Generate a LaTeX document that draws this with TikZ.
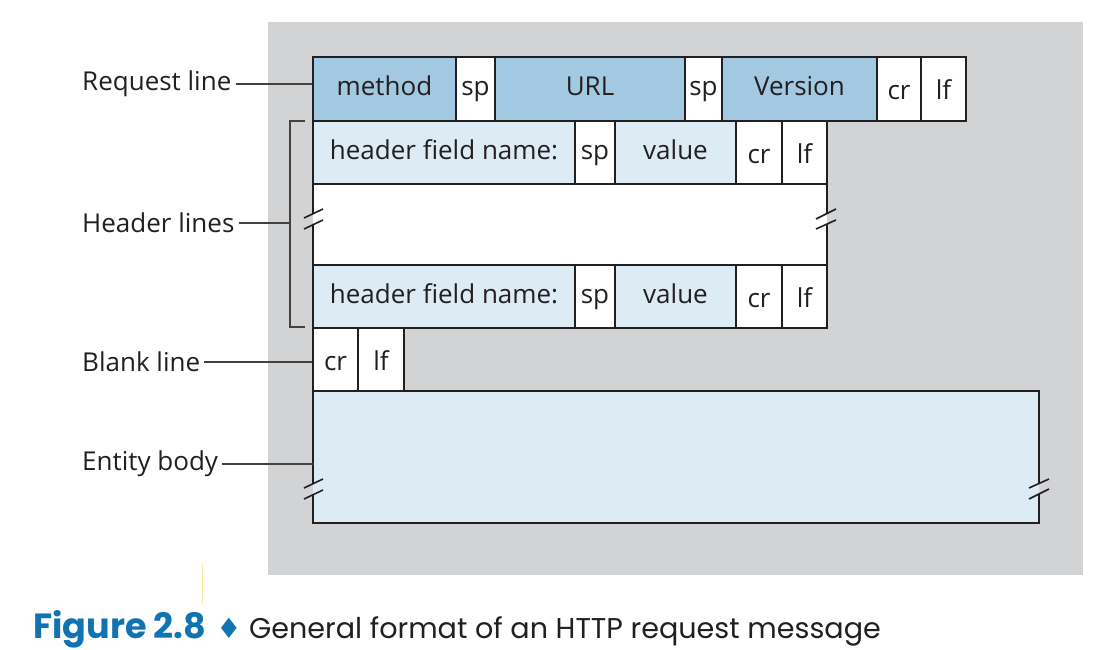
\documentclass[tikz,border=0pt]{standalone}
\usepackage{fontspec}
\setmainfont{Open Sans}
\newfontfamily\capfont{Poppins}
\newfontfamily\symfont{DejaVu Sans}
\definecolor{bggray}{RGB}{209,211,212}
\definecolor{dkblue}{RGB}{162,200,226}
\definecolor{ltblue}{RGB}{221,235,245}
\definecolor{ink}{RGB}{35,31,32}
\definecolor{capblue}{RGB}{16,116,178}
\definecolor{paleyellow}{RGB}{247,236,160}
\begin{document}
\begin{tikzpicture}[x=1pt,y=-1pt,
  cell/.style={draw=ink,line width=1.8pt,inner sep=0pt,fill=white,
    font=\fontsize{26}{30}\selectfont,text=ink,text height=20pt,text depth=6pt},
  low/.style={text height=28pt},
  dk/.style={fill=dkblue},
  lt/.style={fill=ltblue},
  rowA/.style={minimum height=64pt},
  rowB/.style={minimum height=63pt},
  edge/.style={draw=ink,line width=1.8pt},
  brk/.style={draw=ink,line width=1.6pt},
  leader/.style={draw=ink!85,line width=1.2pt},
  lab/.style={font=\fontsize{26}{30}\selectfont,text=ink,inner sep=4pt,anchor=west}]
\useasboundingbox (0,0) rectangle (1112,650);
\fill[bggray] (268,22) rectangle (1083,575);
% middle blank area
\fill[white] (313,184) rectangle (827,265);
% request line
\node[cell,rowA,dk,minimum width=143pt] (method) at (384.5,89) {method};
\node[cell,rowA,minimum width=39pt] (sp1) at (475.5,89) {sp};
\node[cell,rowA,dk,minimum width=190pt] (url) at (590,89) {URL};
\node[cell,rowA,minimum width=37pt] (sp2) at (703.5,89) {sp};
\node[cell,rowA,dk,minimum width=155pt] (version) at (799.5,89) {Version};
\node[cell,rowA,low,minimum width=44pt] (cr0) at (899,89) {cr};
\node[cell,rowA,low,minimum width=45pt] (lf0) at (943.5,89) {lf};
% header line 1
\node[cell,rowB,lt,minimum width=262pt] (hfn1) at (444,152.5) {header field name:};
\node[cell,rowB,minimum width=40pt] (hsp1) at (595,152.5) {sp};
\node[cell,rowB,lt,minimum width=121pt] (val1) at (675.5,152.5) {value};
\node[cell,rowB,low,minimum width=46pt] (hcr1) at (759,152.5) {cr};
\node[cell,rowB,low,minimum width=45pt] (hlf1) at (804.5,152.5) {lf};
% header line 2
\node[cell,rowB,lt,minimum width=262pt] (hfn2) at (444,296.5) {header field name:};
\node[cell,rowB,minimum width=40pt] (hsp2) at (595,296.5) {sp};
\node[cell,rowB,lt,minimum width=121pt] (val2) at (675.5,296.5) {value};
\node[cell,rowB,low,minimum width=46pt] (hcr2) at (759,296.5) {cr};
\node[cell,rowB,low,minimum width=45pt] (hlf2) at (804.5,296.5) {lf};
% blank line
\node[cell,rowB,low,minimum width=45pt] (bcr) at (335.5,359.5) {cr};
\node[cell,rowB,low,minimum width=46pt] (blf) at (381,359.5) {lf};
% middle blank sides with breaks
\draw[edge] (313,184) -- (313,214);
\draw[edge] (313,225) -- (313,265);
\draw[edge] (827,184) -- (827,213.5);
\draw[edge] (827,224) -- (827,265);
\draw[brk] (304,218) -- (323,209);
\draw[brk] (304,229) -- (323,220);
\draw[brk] (816,219) -- (836,209);
\draw[brk] (816,229) -- (836,220);
% entity body
\fill[ltblue] (313,391) rectangle (1039,523);
\coordinate (body) at (313,465);
\draw[edge] (313,484) -- (313,391) -- (1039,391) -- (1039,483.5);
\draw[edge] (313,495) -- (313,523) -- (1039,523) -- (1039,494);
\draw[brk] (304,488) -- (323,479);
\draw[brk] (304,499) -- (323,490);
\draw[brk] (1029,488) -- (1049,479);
\draw[brk] (1029,499) -- (1049,489);
% bracket for header lines
\coordinate (brtop) at (305,121);
\coordinate (brbot) at (305,327);
\draw[leader] (brtop) -- (290,121) coordinate (brA) -- (290,327) -- (brbot);
% labels
\node[lab] (lreq) at (78,84) {Request line};
\node[lab] (lhdr) at (78,223) {Header lines};
\node[lab] (lblank) at (78,362) {Blank line};
\node[lab] (lbody) at (78,464) {Entity body};
\draw[leader] (lreq.east) -- (lreq.east -| method.west);
\draw[leader] (lhdr.east) -- (lhdr.east -| brA);
\draw[leader] (lblank.east) -- (lblank.east -| bcr.west);
\draw[leader] (lbody.east) -- (lbody.east -| body);
% stray mark
\coordinate (ya) at (202,564);
\coordinate (yb) at (202,603);
\draw[paleyellow,line width=0.8pt] (ya) -- (yb);
% caption
\node[anchor=base west,inner sep=0pt,font=\capfont\bfseries\fontsize{35}{40}\selectfont,text=capblue] (fig) at (33,638) {Figure 2.8};
\node[inner sep=0pt,font=\symfont\fontsize{28}{32}\selectfont,text=capblue] (dia) at (229,628) {♦};
\node[anchor=base west,inner sep=0pt,font=\capfont\fontsize{28.6}{33}\selectfont,text=ink] (captxt) at (249,638) {General format of an HTTP request message};
\end{tikzpicture}
\end{document}
